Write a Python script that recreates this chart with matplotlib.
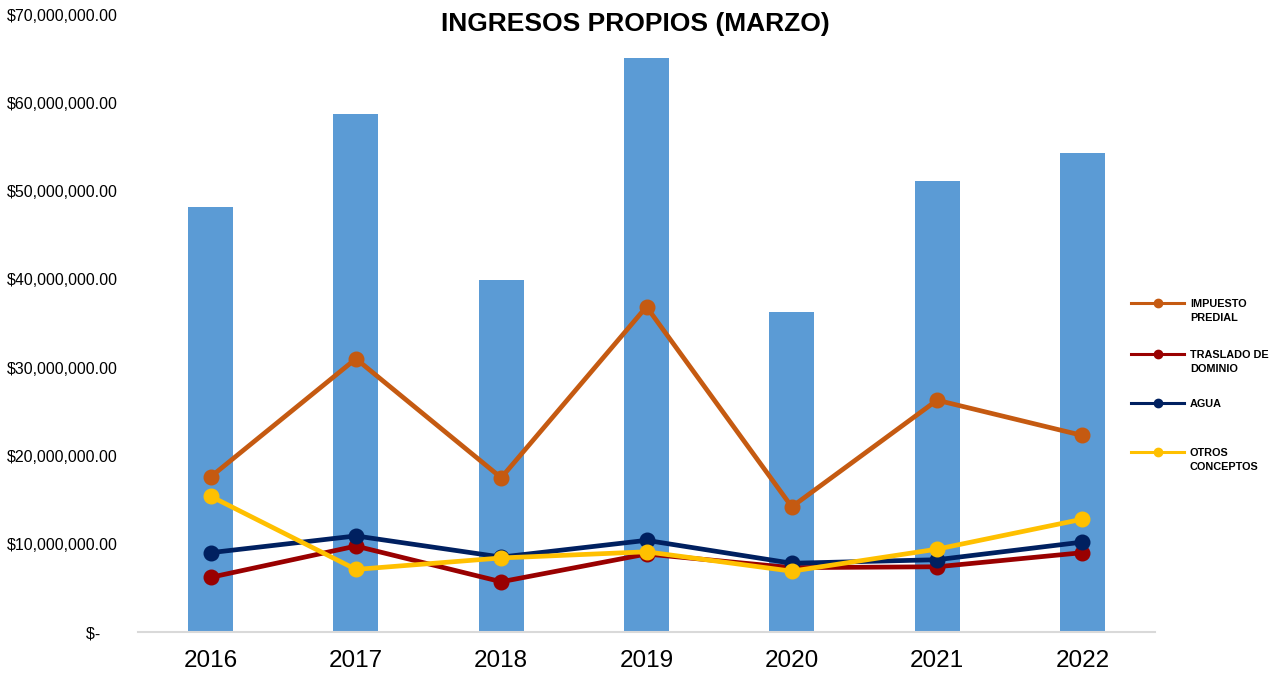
import matplotlib.pyplot as plt
from matplotlib.lines import Line2D
from matplotlib.ticker import FuncFormatter

plt.rcParams['font.family'] = ['Liberation Sans', 'DejaVu Sans']

years = ['2016', '2017', '2018', '2019', '2020', '2021', '2022']
total = [48.2e6, 58.75e6, 39.9e6, 65.1e6, 36.3e6, 51.15e6, 54.3e6]
predial = [17.6e6, 31.0e6, 17.5e6, 36.9e6, 14.2e6, 26.3e6, 22.3e6]
traslado = [6.2e6, 9.75e6, 5.7e6, 8.85e6, 7.3e6, 7.4e6, 9.0e6]
agua = [9.0e6, 10.9e6, 8.5e6, 10.4e6, 7.8e6, 8.2e6, 10.2e6]
otros = [15.4e6, 7.1e6, 8.4e6, 9.1e6, 6.9e6, 9.4e6, 12.8e6]

series = [
    ('IMPUESTO\nPREDIAL', predial, '#C55A11'),
    ('TRASLADO DE\nDOMINIO', traslado, '#990000'),
    ('AGUA', agua, '#002060'),
    ('OTROS\nCONCEPTOS', otros, '#FFC000'),
]

W, H = 1269, 673
fig = plt.figure(figsize=(W / 100, H / 100), dpi=100)
ax = fig.add_axes([138/W, 41/H, (1155-138)/W, (632-15)/H])

x = range(len(years))
ax.bar(x, total, width=0.31, color='#5B9BD5', zorder=1)
for name, vals, col in series:
    ax.plot(x, vals, color=col, lw=3.4, marker='o', ms=10.5, zorder=3)

ax.set_xlim(-0.5, 6.5)
ax.set_ylim(0, 70e6)
ax.set_yticks([i * 10e6 for i in range(8)])

def fmt(v, pos):
    if v == 0:
        return '$-    '
    return '${:,.2f}'.format(v)

ax.yaxis.set_major_formatter(FuncFormatter(fmt))
ax.set_xticks(list(x))
ax.set_xticklabels(years, fontsize=17.5)
ax.tick_params(axis='y', labelsize=11.5, length=0, pad=14.5)
ax.tick_params(axis='x', length=0, pad=13)
for s in ['top', 'right', 'left']:
    ax.spines[s].set_visible(False)
ax.spines['bottom'].set_color('#D9D9D9')
ax.spines['bottom'].set_linewidth(1.5)

fig.text(635/W, 1 - 24/H, 'INGRESOS PROPIOS (MARZO)', ha='center', va='center',
         fontsize=19, fontweight='bold')

# legend drawn by hand so the handle lines up with the first text line
leg_y = [303, 354, 403, 452]
for (name, vals, col), yy in zip(series, leg_y):
    yf = 1 - yy / H
    fig.add_artist(Line2D([1131/W, 1184/W], [yf, yf], color=col, lw=2.2,
                          transform=fig.transFigure))
    fig.add_artist(Line2D([1158/W], [yf], color=col, marker='o', ms=6,
                          transform=fig.transFigure))
    fig.text(1190/W, 1 - (yy - 4) / H, name, ha='left', va='top',
             fontsize=7.8, fontweight='bold', linespacing=1.45)

fig.savefig('out.png', dpi=100)
